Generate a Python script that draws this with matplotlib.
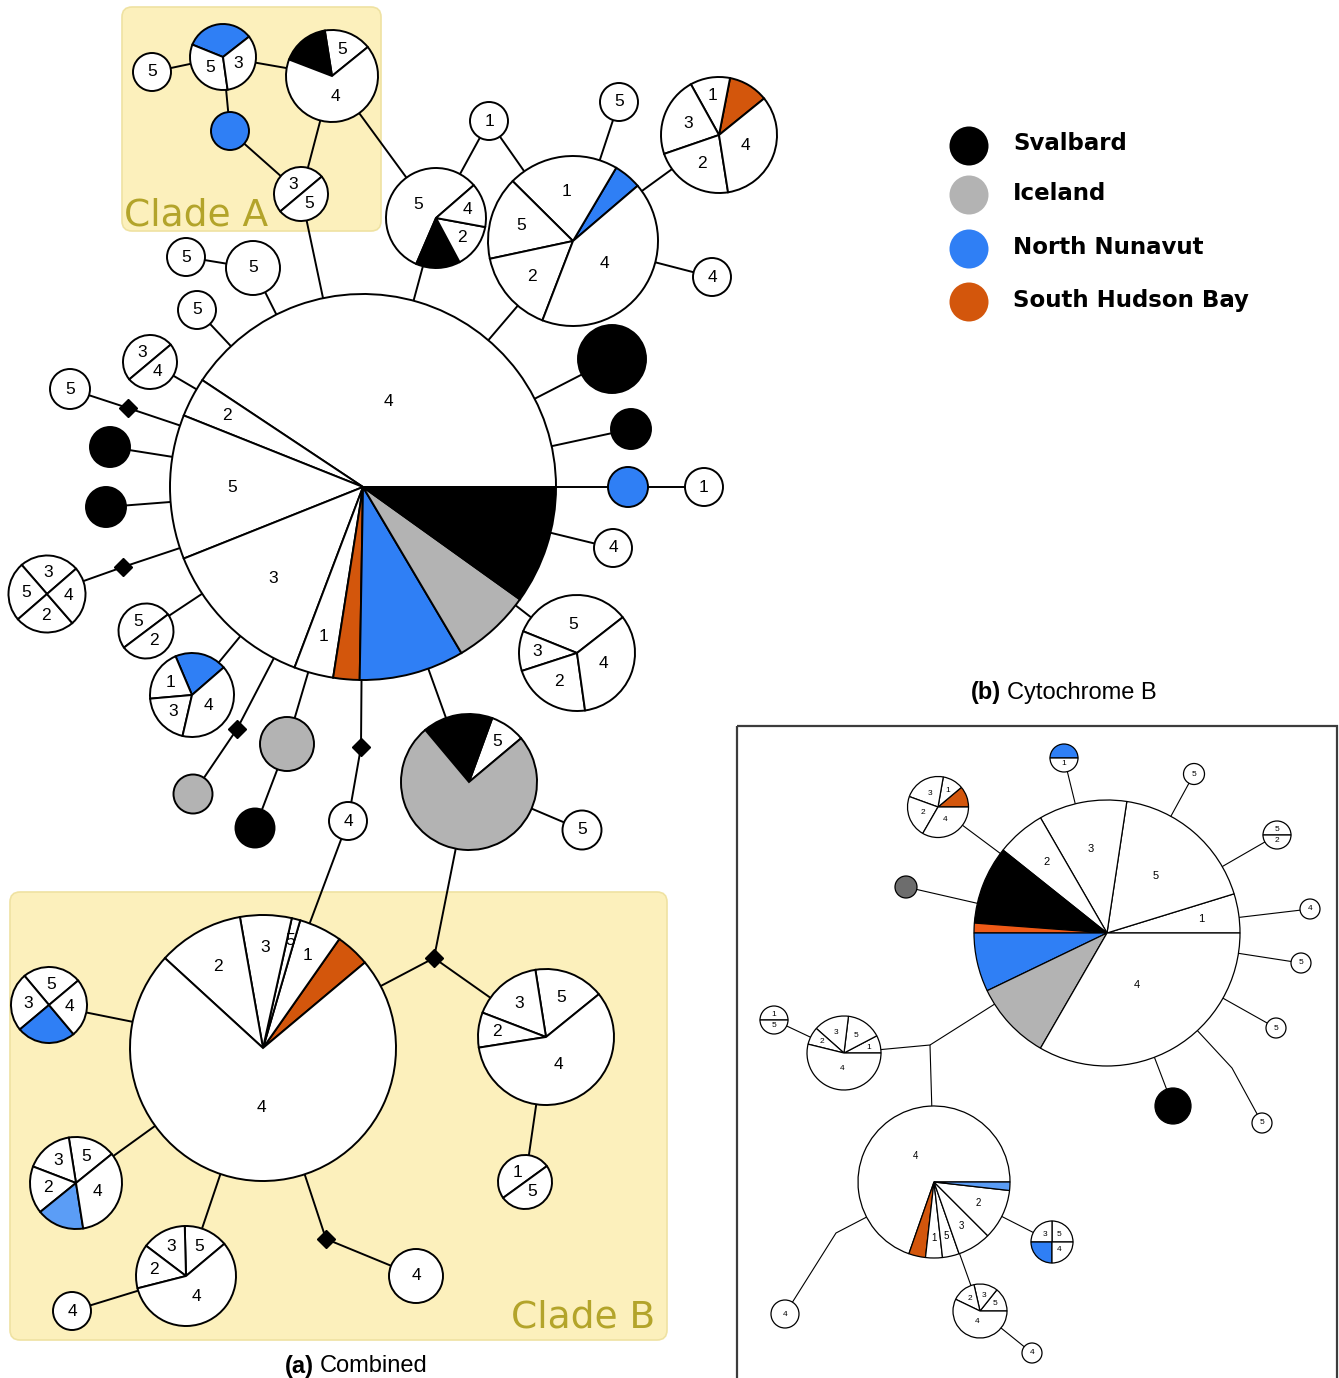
import numpy as np
import matplotlib
matplotlib.use('Agg')
import matplotlib.pyplot as plt
from matplotlib.patches import Circle, FancyBboxPatch, Rectangle

plt.rcParams['font.family'] = ['Liberation Sans', 'DejaVu Sans']

W, H = 1339, 1378

# sampled regions; digits "1".."5" are the numbered sites drawn white
region_names = ["Svalbard", "Iceland", "North Nunavut", "South Hudson Bay"]
region_keys = ["S", "I", "N", "H"]
region_colors = ["#000000", "#b3b3b3", "#2f7ff5", "#d3560c"]
# lighter / darker shades used on a few haplotypes
shades = {"n": "#5b9df6", "h": "#ef5a17", "g": "#6d6d6d"}

# ---------------- (a) combined ----------------
# haplotype composition, slices counter-clockwise from the start angle
a_haps = {
    "A1": [("5", 1)],
    "A2": [("N", 1), ("5", 1), ("3", 1)],
    "A3": [("N", 1)],
    "A4": [("5", 1), ("S", 1), ("4", 4)],
    "A5": [("3", 1), ("5", 1)],
    "N1": [("1", 1)],
    "N2": [("5", 4), ("S", 1), ("2", 1), ("4", 1)],
    "N3": [("N", 1), ("1", 4), ("5", 3), ("2", 3), ("4", 8)],
    "N4": [("5", 1)],
    "N5": [("H", 1), ("1", 1), ("3", 2), ("2", 2), ("4", 3)],
    "N6": [("4", 1)],
    "M": [("4", 37), ("2", 3), ("5", 11), ("3", 12), ("1", 3),
          ("H", 2), ("N", 8), ("I", 6), ("S", 9)],
    "L1": [("5", 1)],
    "L2": [("5", 1)],
    "L3": [("5", 1)],
    "L4": [("3", 1), ("4", 1)],
    "L5": [("5", 1)],
    "L6": [("S", 1)],
    "L7": [("S", 1)],
    "L8": [("3", 1), ("5", 1), ("2", 1), ("4", 1)],
    "L9": [("5", 1), ("2", 1)],
    "L10": [("N", 1), ("1", 1), ("3", 1), ("4", 2)],
    "L11": [("I", 1)],
    "L12": [("I", 1)],
    "L13": [("S", 1)],
    "B1": [("4", 1)],
    "R1": [("S", 1)],
    "R2": [("S", 1)],
    "R3": [("N", 1)],
    "R4": [("1", 1)],
    "R5": [("4", 1)],
    "R6": [("5", 3), ("3", 1), ("2", 2), ("4", 3)],
    "G1": [("5", 1), ("S", 2), ("I", 9)],
    "G2": [("5", 1)],
    "CB": [("H", 4), ("1", 5), ("5", 1), ("3", 6), ("2", 10), ("4", 70)],
    "CB1": [("5", 1), ("3", 1), ("N", 1), ("4", 1)],
    "CB2": [("5", 1), ("3", 1), ("2", 1), ("n", 1), ("4", 2)],
    "CB3": [("5", 1), ("3", 1), ("2", 1), ("4", 4)],
    "CB4": [("4", 1)],
    "CB5": [("4", 1)],
    "CB6": [("5", 2), ("3", 2), ("2", 1), ("4", 7)],
    "CB7": [("1", 1), ("5", 1)],
}

# network layout: x, y, radius, start angle
a_layout = {
    "A1": (152, 72, 19, 0), "A2": (223, 57, 33, 38), "A3": (230, 131, 19, 0),
    "A4": (332, 76, 46, 39), "A5": (301, 194, 27, 40),
    "N1": (489, 121, 19, 0), "N2": (436, 218, 50, 41), "N3": (573, 241, 85, 40.5),
    "N4": (619, 102, 19, 0), "N5": (719, 135, 58, 39), "N6": (712, 277, 19, 0),
    "M": (363, 487, 193, 0),
    "L1": (186, 257, 19, 0), "L2": (253, 268, 27, 0), "L3": (197, 310, 19, 0),
    "L4": (150, 362, 27, 40), "L5": (70, 389, 20, 0), "L6": (110, 447, 20, 0),
    "L7": (106, 507, 20, 0), "L8": (47, 594, 38.5, 41), "L9": (146, 631, 27.5, 37),
    "L10": (192, 695, 42, 41), "L11": (193, 794, 19.5, 0), "L12": (287, 744, 27, 0),
    "L13": (255, 828, 19.5, 0), "B1": (348, 821, 19, 0),
    "R1": (612, 359, 34, 0), "R2": (631, 429, 20, 0), "R3": (628, 487, 20, 0),
    "R4": (704, 487, 19, 0), "R5": (613, 548, 19, 0), "R6": (577, 653, 58, 38),
    "G1": (469, 782, 68, 40), "G2": (582, 830, 19.5, 0),
    "CB": (263, 1048, 133, 40), "CB1": (49, 1005, 38, 40), "CB2": (76, 1183, 46, 39),
    "CB3": (186, 1276, 50, 40), "CB4": (72, 1311, 19, 0), "CB5": (416, 1276, 27, 0),
    "CB6": (546, 1037, 68, 39), "CB7": (525, 1182, 27, 36),
}

# median vectors (black diamonds)
a_medians = {"m1": (128, 408), "m2": (123, 567), "m3": (237, 729),
             "m4": (361, 747), "m5": (434, 958), "m6": (326, 1239)}

a_links = [
    ("A1", "A2"), ("A2", "A4"), ("A2", "A3"), ("A3", "A5"), ("A5", "A4"),
    ("A5", "M"), ("A4", "N2"),
    ("N1", "N2"), ("N1", "N3"), ("N2", "M"), ("N3", "M"), ("N3", "N4"),
    ("N3", "N5"), ("N3", "N6"),
    ("L1", "L2"), ("L2", "M"), ("L3", "M"), ("L4", "M"), ("L5", "m1", "M"),
    ("L6", "M"), ("L7", "M"), ("L8", "m2", "M"), ("L9", "M"), ("L10", "M"),
    ("L11", "m3", "M"), ("L12", "M"), ("L13", "L12"),
    ("M", "m4", "B1"), ("B1", "CB"),
    ("R1", "M"), ("R2", "M"), ("R3", "M"), ("R3", "R4"), ("R5", "M"), ("R6", "M"),
    ("G1", "M"), ("G1", "G2"), ("G1", "m5"), ("m5", "CB"), ("m5", "CB6"),
    ("CB", "CB1"), ("CB", "CB2"), ("CB", "CB3"), ("CB3", "CB4"),
    ("CB", "m6", "CB5"), ("CB6", "CB7"),
]

# ---------------- (b) cytochrome b ----------------
b_haps = {
    "T": [("1", 4), ("5", 15), ("3", 9), ("2", 5), ("S", 8), ("h", 1),
          ("N", 6), ("I", 8), ("4", 28)],
    "T1": [("N", 1), ("1", 1)],
    "T2": [("5", 1)],
    "T3": [("5", 1), ("2", 1)],
    "T4": [("4", 1)],
    "T5": [("5", 1)],
    "T6": [("5", 1)],
    "T7": [("S", 1)],
    "T8": [("5", 1)],
    "T9": [("g", 1)],
    "T10": [("H", 1), ("1", 1), ("3", 2), ("2", 2), ("4", 3)],
    "U": [("1", 1), ("5", 2), ("3", 2), ("2", 1), ("4", 7)],
    "U1": [("1", 1), ("5", 1)],
    "V": [("4", 39), ("H", 2), ("1", 2), ("5", 2), ("3", 4), ("2", 6), ("n", 1)],
    "V1": [("5", 1), ("3", 1), ("N", 1), ("4", 1)],
    "V2": [("4", 1)],
    "V3": [("5", 1), ("3", 1), ("2", 1), ("4", 4)],
    "V4": [("4", 1)],
}

b_layout = {
    "T": (1107, 933, 133, 0), "T1": (1064, 758, 14, 0), "T2": (1194, 774, 10.5, 0),
    "T3": (1277, 835, 14, 0), "T4": (1310, 909, 10, 0), "T5": (1301, 963, 10, 0),
    "T6": (1276, 1028, 10, 0), "T7": (1173, 1106, 18, 0), "T8": (1262, 1123, 10, 0),
    "T9": (906, 887, 11, 0), "T10": (938, 807, 30.5, 0),
    "U": (844, 1053, 37, 0), "U1": (774, 1020, 14, 0),
    "V": (934, 1182, 76, 0), "V1": (1052, 1242, 21, 0), "V2": (785, 1314, 14, 0),
    "V3": (980, 1311, 27, 0), "V4": (1032, 1353, 10, 0),
}
b_font = {"T": 8, "V": 7}

# plain junctions and bends in the links
b_bends = {"j": (930, 1045), "k1": (1232, 1068), "k2": (836, 1233)}

b_links = [
    ("T", "T1"), ("T", "T2"), ("T", "T3"), ("T", "T4"), ("T", "T5"), ("T", "T6"),
    ("T", "T7"), ("T", "k1", "T8"), ("T", "T9"), ("T", "T10"), ("T", "j"),
    ("j", "U"), ("j", "V"), ("U", "U1"), ("V", "V1"), ("V", "k2", "V2"),
    ("V", "V3"), ("V3", "V4"),
]


def fill_of(key):
    if key in region_keys:
        return region_colors[region_keys.index(key)]
    return shades.get(key, "white")


def draw_node(ax, parts, x, y, r, start, fs, lw, lscale=1.0):
    keys = [k for k, _ in parts]
    counts = [c for _, c in parts]
    # y axis runs downwards, so clockwise in data = counter-clockwise on screen
    ax.pie(counts, colors=[fill_of(k) for k in keys], center=(x, y), radius=r,
           startangle=-start, counterclock=False,
           wedgeprops=dict(edgecolor="black", linewidth=lw, zorder=3))
    total = float(sum(counts))
    a0 = start
    for k, c in parts:
        span = 360.0 * c / total
        if k.isdigit():
            if len(parts) == 1:
                tx, ty = x, y
            else:
                mid = np.radians(a0 + span / 2)
                # narrow slices push their label further out
                f = 0.45 + 0.4 * max(0.0, 1 - span / 180) ** 2
                d = r * lscale * min(0.85, f)
                tx, ty = x + d * np.cos(mid), y - d * np.sin(mid)
            ax.text(tx, ty, k, ha="center", va="center", fontsize=fs, zorder=5)
        a0 += span


def draw_links(ax, links, points, lw):
    for path in links:
        xs = [points[p][0] for p in path]
        ys = [points[p][1] for p in path]
        ax.plot(xs, ys, color="black", lw=lw, zorder=1, solid_capstyle="butt")


fig = plt.figure(figsize=(W / 100, H / 100), dpi=100)
ax = fig.add_axes([0, 0, 1, 1])

# clade boxes
for x0, y0, x1, y1 in [(122, 7, 381, 231), (10, 892, 667, 1340)]:
    ax.add_patch(FancyBboxPatch((x0, y0), x1 - x0, y1 - y0,
                                boxstyle="round,pad=0,rounding_size=10",
                                facecolor="#fcf0bc", edgecolor="#efe2a2",
                                lw=1.2, zorder=0))
ax.text(124, 226, "Clade A", fontsize=27, family="DejaVu Sans",
        color="#b3a42a", ha="left", va="baseline", zorder=6)
ax.text(511, 1328, "Clade B", fontsize=27, family="DejaVu Sans",
        color="#b3a42a", ha="left", va="baseline", zorder=6)

# network (a)
a_points = {k: v[:2] for k, v in a_layout.items()}
a_points.update(a_medians)
draw_links(ax, a_links, a_points, 1.4)
for name, (x, y) in a_medians.items():
    ax.plot(x, y, marker="D", ms=9, color="black", zorder=4)
for name, parts in a_haps.items():
    x, y, r, start = a_layout[name]
    draw_node(ax, parts, x, y, r, start, 12.5, 1.4)

# network (b)
ax.add_patch(Rectangle((737, 726), 600, 700, fill=False,
                       edgecolor="#3c3c3c", lw=1.6, zorder=0))
b_points = {k: v[:2] for k, v in b_layout.items()}
b_points.update(b_bends)
draw_links(ax, b_links, b_points, 0.8)
for name, parts in b_haps.items():
    x, y, r, start = b_layout[name]
    draw_node(ax, parts, x, y, r, start, b_font.get(name, 6), 0.9, 0.92)

# panel captions
ax.text(314, 1366, "(a)", fontsize=17, fontweight="bold", ha="right", va="center")
ax.text(320, 1366, "Combined", fontsize=17, ha="left", va="center")
ax.text(1001, 693, "(b)", fontsize=17, fontweight="bold", ha="right", va="center")
ax.text(1007, 693, "Cytochrome B", fontsize=17, ha="left", va="center")

# legend
for i, (name, col) in enumerate(zip(region_names, region_colors)):
    cy = [146, 195, 249, 302][i]
    ax.add_patch(Circle((969, cy), 19.5, facecolor=col, edgecolor="none", zorder=3))
    ax.text(1013, cy - 2, name, fontsize=16.5, fontweight="bold",
            family="DejaVu Sans", ha="left", va="center")

ax.set_xlim(0, W)
ax.set_ylim(H, 0)
ax.set_aspect("equal")
ax.axis("off")
fig.savefig("out.png", dpi=100)
